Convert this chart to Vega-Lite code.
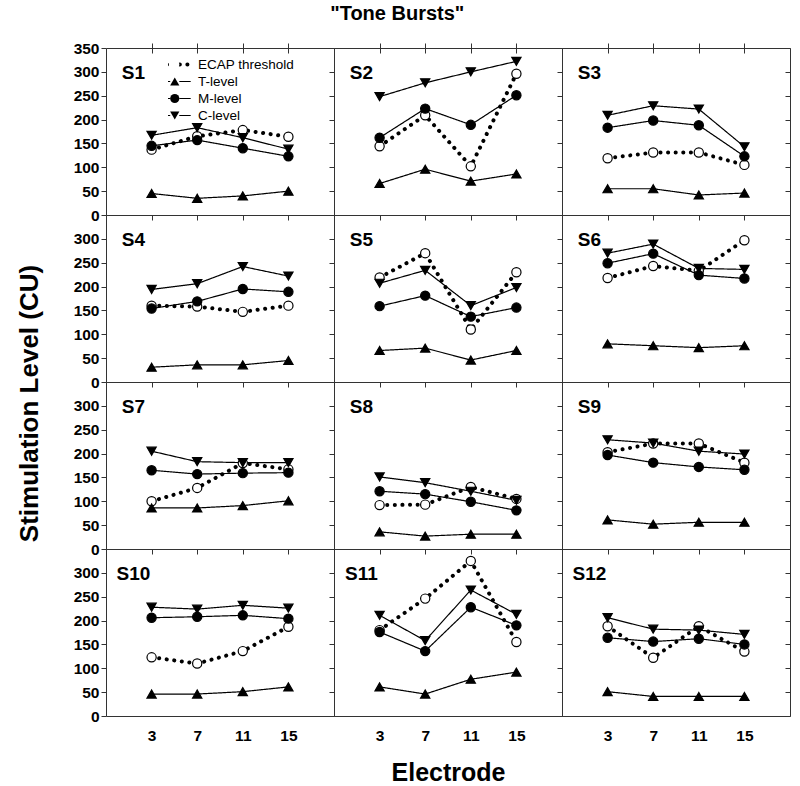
{
"$schema": "https://vega.github.io/schema/vega-lite/v6.json",
"padding": {"left": 15, "top": 3, "right": 10, "bottom": 5},
"background": "white",
"title": {"text": "\"Tone Bursts\"", "font": "Liberation Sans", "fontSize": 20, "fontWeight": "bold", "color": "black", "anchor": "middle", "dx": -6, "offset": 17},
"data": {"values": [
{"subject":"S1","series":"ECAP threshold","electrode":3,"value":137},{"subject":"S1","series":"ECAP threshold","electrode":7,"value":165},{"subject":"S1","series":"ECAP threshold","electrode":11,"value":178},{"subject":"S1","series":"ECAP threshold","electrode":15,"value":164},
{"subject":"S1","series":"T-level","electrode":3,"value":45},{"subject":"S1","series":"T-level","electrode":7,"value":35},{"subject":"S1","series":"T-level","electrode":11,"value":40},{"subject":"S1","series":"T-level","electrode":15,"value":50},
{"subject":"S1","series":"M-level","electrode":3,"value":145},{"subject":"S1","series":"M-level","electrode":7,"value":157},{"subject":"S1","series":"M-level","electrode":11,"value":140},{"subject":"S1","series":"M-level","electrode":15,"value":123},
{"subject":"S1","series":"C-level","electrode":3,"value":167},{"subject":"S1","series":"C-level","electrode":7,"value":183},{"subject":"S1","series":"C-level","electrode":11,"value":162},{"subject":"S1","series":"C-level","electrode":15,"value":138},
{"subject":"S2","series":"ECAP threshold","electrode":3,"value":144},{"subject":"S2","series":"ECAP threshold","electrode":7,"value":209},{"subject":"S2","series":"ECAP threshold","electrode":11,"value":102},{"subject":"S2","series":"ECAP threshold","electrode":15,"value":296},
{"subject":"S2","series":"T-level","electrode":3,"value":66},{"subject":"S2","series":"T-level","electrode":7,"value":96},{"subject":"S2","series":"T-level","electrode":11,"value":71},{"subject":"S2","series":"T-level","electrode":15,"value":86},
{"subject":"S2","series":"M-level","electrode":3,"value":162},{"subject":"S2","series":"M-level","electrode":7,"value":223},{"subject":"S2","series":"M-level","electrode":11,"value":189},{"subject":"S2","series":"M-level","electrode":15,"value":251},
{"subject":"S2","series":"C-level","electrode":3,"value":248},{"subject":"S2","series":"C-level","electrode":7,"value":277},{"subject":"S2","series":"C-level","electrode":11,"value":300},{"subject":"S2","series":"C-level","electrode":15,"value":322},
{"subject":"S3","series":"ECAP threshold","electrode":3,"value":119},{"subject":"S3","series":"ECAP threshold","electrode":7,"value":131},{"subject":"S3","series":"ECAP threshold","electrode":11,"value":131},{"subject":"S3","series":"ECAP threshold","electrode":15,"value":105},
{"subject":"S3","series":"T-level","electrode":3,"value":55},{"subject":"S3","series":"T-level","electrode":7,"value":55},{"subject":"S3","series":"T-level","electrode":11,"value":42},{"subject":"S3","series":"T-level","electrode":15,"value":46},
{"subject":"S3","series":"M-level","electrode":3,"value":183},{"subject":"S3","series":"M-level","electrode":7,"value":198},{"subject":"S3","series":"M-level","electrode":11,"value":188},{"subject":"S3","series":"M-level","electrode":15,"value":123},
{"subject":"S3","series":"C-level","electrode":3,"value":209},{"subject":"S3","series":"C-level","electrode":7,"value":229},{"subject":"S3","series":"C-level","electrode":11,"value":222},{"subject":"S3","series":"C-level","electrode":15,"value":143},
{"subject":"S4","series":"ECAP threshold","electrode":3,"value":160},{"subject":"S4","series":"ECAP threshold","electrode":7,"value":158},{"subject":"S4","series":"ECAP threshold","electrode":11,"value":147},{"subject":"S4","series":"ECAP threshold","electrode":15,"value":160},
{"subject":"S4","series":"T-level","electrode":3,"value":31},{"subject":"S4","series":"T-level","electrode":7,"value":36},{"subject":"S4","series":"T-level","electrode":11,"value":36},{"subject":"S4","series":"T-level","electrode":15,"value":45},
{"subject":"S4","series":"M-level","electrode":3,"value":154},{"subject":"S4","series":"M-level","electrode":7,"value":169},{"subject":"S4","series":"M-level","electrode":11,"value":195},{"subject":"S4","series":"M-level","electrode":15,"value":189},
{"subject":"S4","series":"C-level","electrode":3,"value":194},{"subject":"S4","series":"C-level","electrode":7,"value":206},{"subject":"S4","series":"C-level","electrode":11,"value":242},{"subject":"S4","series":"C-level","electrode":15,"value":222},
{"subject":"S5","series":"ECAP threshold","electrode":3,"value":219},{"subject":"S5","series":"ECAP threshold","electrode":7,"value":270},{"subject":"S5","series":"ECAP threshold","electrode":11,"value":110},{"subject":"S5","series":"ECAP threshold","electrode":15,"value":230},
{"subject":"S5","series":"T-level","electrode":3,"value":66},{"subject":"S5","series":"T-level","electrode":7,"value":71},{"subject":"S5","series":"T-level","electrode":11,"value":46},{"subject":"S5","series":"T-level","electrode":15,"value":66},
{"subject":"S5","series":"M-level","electrode":3,"value":159},{"subject":"S5","series":"M-level","electrode":7,"value":181},{"subject":"S5","series":"M-level","electrode":11,"value":137},{"subject":"S5","series":"M-level","electrode":15,"value":156},
{"subject":"S5","series":"C-level","electrode":3,"value":207},{"subject":"S5","series":"C-level","electrode":7,"value":234},{"subject":"S5","series":"C-level","electrode":11,"value":160},{"subject":"S5","series":"C-level","electrode":15,"value":198},
{"subject":"S6","series":"ECAP threshold","electrode":3,"value":218},{"subject":"S6","series":"ECAP threshold","electrode":7,"value":243},{"subject":"S6","series":"ECAP threshold","electrode":11,"value":233},{"subject":"S6","series":"ECAP threshold","electrode":15,"value":297},
{"subject":"S6","series":"T-level","electrode":3,"value":80},{"subject":"S6","series":"T-level","electrode":7,"value":76},{"subject":"S6","series":"T-level","electrode":11,"value":72},{"subject":"S6","series":"T-level","electrode":15,"value":76},
{"subject":"S6","series":"M-level","electrode":3,"value":249},{"subject":"S6","series":"M-level","electrode":7,"value":269},{"subject":"S6","series":"M-level","electrode":11,"value":224},{"subject":"S6","series":"M-level","electrode":15,"value":217},
{"subject":"S6","series":"C-level","electrode":3,"value":270},{"subject":"S6","series":"C-level","electrode":7,"value":289},{"subject":"S6","series":"C-level","electrode":11,"value":238},{"subject":"S6","series":"C-level","electrode":15,"value":236},
{"subject":"S7","series":"ECAP threshold","electrode":3,"value":100},{"subject":"S7","series":"ECAP threshold","electrode":7,"value":128},{"subject":"S7","series":"ECAP threshold","electrode":11,"value":180},{"subject":"S7","series":"ECAP threshold","electrode":15,"value":167},
{"subject":"S7","series":"T-level","electrode":3,"value":86},{"subject":"S7","series":"T-level","electrode":7,"value":86},{"subject":"S7","series":"T-level","electrode":11,"value":91},{"subject":"S7","series":"T-level","electrode":15,"value":101},
{"subject":"S7","series":"M-level","electrode":3,"value":165},{"subject":"S7","series":"M-level","electrode":7,"value":157},{"subject":"S7","series":"M-level","electrode":11,"value":159},{"subject":"S7","series":"M-level","electrode":15,"value":160},
{"subject":"S7","series":"C-level","electrode":3,"value":205},{"subject":"S7","series":"C-level","electrode":7,"value":183},{"subject":"S7","series":"C-level","electrode":11,"value":181},{"subject":"S7","series":"C-level","electrode":15,"value":181},
{"subject":"S8","series":"ECAP threshold","electrode":3,"value":92},{"subject":"S8","series":"ECAP threshold","electrode":7,"value":93},{"subject":"S8","series":"ECAP threshold","electrode":11,"value":130},{"subject":"S8","series":"ECAP threshold","electrode":15,"value":105},
{"subject":"S8","series":"T-level","electrode":3,"value":36},{"subject":"S8","series":"T-level","electrode":7,"value":27},{"subject":"S8","series":"T-level","electrode":11,"value":31},{"subject":"S8","series":"T-level","electrode":15,"value":31},
{"subject":"S8","series":"M-level","electrode":3,"value":121},{"subject":"S8","series":"M-level","electrode":7,"value":115},{"subject":"S8","series":"M-level","electrode":11,"value":99},{"subject":"S8","series":"M-level","electrode":15,"value":81},
{"subject":"S8","series":"C-level","electrode":3,"value":151},{"subject":"S8","series":"C-level","electrode":7,"value":139},{"subject":"S8","series":"C-level","electrode":11,"value":121},{"subject":"S8","series":"C-level","electrode":15,"value":102},
{"subject":"S9","series":"ECAP threshold","electrode":3,"value":203},{"subject":"S9","series":"ECAP threshold","electrode":7,"value":221},{"subject":"S9","series":"ECAP threshold","electrode":11,"value":221},{"subject":"S9","series":"ECAP threshold","electrode":15,"value":181},
{"subject":"S9","series":"T-level","electrode":3,"value":61},{"subject":"S9","series":"T-level","electrode":7,"value":52},{"subject":"S9","series":"T-level","electrode":11,"value":56},{"subject":"S9","series":"T-level","electrode":15,"value":56},
{"subject":"S9","series":"M-level","electrode":3,"value":197},{"subject":"S9","series":"M-level","electrode":7,"value":181},{"subject":"S9","series":"M-level","electrode":11,"value":172},{"subject":"S9","series":"M-level","electrode":15,"value":166},
{"subject":"S9","series":"C-level","electrode":3,"value":229},{"subject":"S9","series":"C-level","electrode":7,"value":222},{"subject":"S9","series":"C-level","electrode":11,"value":205},{"subject":"S9","series":"C-level","electrode":15,"value":199},
{"subject":"S10","series":"ECAP threshold","electrode":3,"value":123},{"subject":"S10","series":"ECAP threshold","electrode":7,"value":110},{"subject":"S10","series":"ECAP threshold","electrode":11,"value":136},{"subject":"S10","series":"ECAP threshold","electrode":15,"value":187},
{"subject":"S10","series":"T-level","electrode":3,"value":46},{"subject":"S10","series":"T-level","electrode":7,"value":46},{"subject":"S10","series":"T-level","electrode":11,"value":51},{"subject":"S10","series":"T-level","electrode":15,"value":61},
{"subject":"S10","series":"M-level","electrode":3,"value":206},{"subject":"S10","series":"M-level","electrode":7,"value":208},{"subject":"S10","series":"M-level","electrode":11,"value":211},{"subject":"S10","series":"M-level","electrode":15,"value":204},
{"subject":"S10","series":"C-level","electrode":3,"value":228},{"subject":"S10","series":"C-level","electrode":7,"value":224},{"subject":"S10","series":"C-level","electrode":11,"value":232},{"subject":"S10","series":"C-level","electrode":15,"value":226},
{"subject":"S11","series":"ECAP threshold","electrode":3,"value":180},{"subject":"S11","series":"ECAP threshold","electrode":7,"value":246},{"subject":"S11","series":"ECAP threshold","electrode":11,"value":325},{"subject":"S11","series":"ECAP threshold","electrode":15,"value":155},
{"subject":"S11","series":"T-level","electrode":3,"value":61},{"subject":"S11","series":"T-level","electrode":7,"value":46},{"subject":"S11","series":"T-level","electrode":11,"value":77},{"subject":"S11","series":"T-level","electrode":15,"value":92},
{"subject":"S11","series":"M-level","electrode":3,"value":176},{"subject":"S11","series":"M-level","electrode":7,"value":136},{"subject":"S11","series":"M-level","electrode":11,"value":228},{"subject":"S11","series":"M-level","electrode":15,"value":190},
{"subject":"S11","series":"C-level","electrode":3,"value":211},{"subject":"S11","series":"C-level","electrode":7,"value":158},{"subject":"S11","series":"C-level","electrode":11,"value":264},{"subject":"S11","series":"C-level","electrode":15,"value":213},
{"subject":"S12","series":"ECAP threshold","electrode":3,"value":188},{"subject":"S12","series":"ECAP threshold","electrode":7,"value":122},{"subject":"S12","series":"ECAP threshold","electrode":11,"value":188},{"subject":"S12","series":"ECAP threshold","electrode":15,"value":135},
{"subject":"S12","series":"T-level","electrode":3,"value":51},{"subject":"S12","series":"T-level","electrode":7,"value":41},{"subject":"S12","series":"T-level","electrode":11,"value":41},{"subject":"S12","series":"T-level","electrode":15,"value":41},
{"subject":"S12","series":"M-level","electrode":3,"value":164},{"subject":"S12","series":"M-level","electrode":7,"value":156},{"subject":"S12","series":"M-level","electrode":11,"value":162},{"subject":"S12","series":"M-level","electrode":15,"value":150},
{"subject":"S12","series":"C-level","electrode":3,"value":206},{"subject":"S12","series":"C-level","electrode":7,"value":182},{"subject":"S12","series":"C-level","electrode":11,"value":180},{"subject":"S12","series":"C-level","electrode":15,"value":171}
]},
"columns": 3,
"spacing": 0,
"bounds": "flush",
"concat": [
{"width":228,"height":167,"transform":[{"filter":"datum.subject == 'S1'"}],
 "encoding":{"x":{"field":"electrode","type":"quantitative","scale":{"domain":[-1,19],"nice":false},"axis":{"values":[3,7,11,15],"labels":false,"title":null}},
  "y":{"field":"value","type":"quantitative","scale":{"domain":[0,350],"nice":false},"axis":{"values":[0,50,100,150,200,250,300,350],"title":null}}},
 "resolve":{"axis":{"x":"independent"}},
 "layer":[
  {"mark":{"type":"line","color":"black","strokeCap":"round"},"encoding":{
    "strokeDash":{"field":"series","type":"nominal","sort":["ECAP threshold","T-level","M-level","C-level"],"scale":{"range":[[0.1,7.5],[1,0],[1,0],[1,0]]},"legend":{"orient":"none","legendX":62,"legendY":8,"title":null,"symbolType":"M-3.1,0H-1M1,0H3.1","symbolSize":100,"symbolStrokeColor":"black","symbolFillColor":"transparent","symbolStrokeWidth":1.2,"clipHeight":17,"rowPadding":0,"padding":0,"labelFont":"Liberation Sans","labelFontSize":13.5,"labelColor":"black","labelOffset":16.5,"encode":{"symbols":{"update":{"strokeCap":{"value":"round"},"strokeWidth":{"signal":"datum.value == 'ECAP threshold' ? 4 : 1.2"},"strokeDash":{"signal":"datum.value == 'ECAP threshold' ? [0.1, 7.5] : [1, 0]"}}}}}},
    "strokeWidth":{"condition":{"test":"datum.series == 'ECAP threshold'","value":4},"value":1.2}}},
  {"mark":{"type":"point","filled":true,"stroke":"black","strokeWidth":1.2,"size":85,"opacity":1},"encoding":{
    "shape":{"field":"series","type":"nominal","scale":{"domain":["ECAP threshold","T-level","M-level","C-level"],"range":["circle","triangle-up","circle","triangle-down"]},"legend":{"orient":"none","legendX":62,"legendY":8,"title":null,"symbolSize":85,"symbolStrokeColor":"black","symbolStrokeWidth":1.2,"symbolOpacity":1,"clipHeight":17,"rowPadding":0,"padding":0,"labelExpr":"''"}},
    "fill":{"field":"series","type":"nominal","scale":{"domain":["ECAP threshold","T-level","M-level","C-level"],"range":["white","black","black","black"]},"legend":{"orient":"none","legendX":62,"legendY":8,"title":null,"symbolSize":85,"symbolStrokeColor":"black","symbolStrokeWidth":1.2,"symbolOpacity":1,"clipHeight":17,"rowPadding":0,"padding":0,"labelExpr":"''"}}}},
  {"transform":[{"filter":"datum.electrode == 3 && datum.series == 'T-level'"}],"mark":{"type":"text","font":"Liberation Sans","fontSize":19,"fontWeight":"bold","align":"center","baseline":"middle","color":"black"},"encoding":{"x":{"datum":1.4,"axis":{"orient":"top","values":[3,7,11,15],"labels":false,"title":null,"tickSize":-5}},"y":{"datum":297},"text":{"field":"subject"}}}
 ]},
{"width":228,"height":167,"transform":[{"filter":"datum.subject == 'S2'"}],
 "encoding":{"x":{"field":"electrode","type":"quantitative","scale":{"domain":[-1,19],"nice":false},"axis":{"values":[3,7,11,15],"labels":false,"title":null}},
  "y":{"field":"value","type":"quantitative","scale":{"domain":[0,350],"nice":false},"axis":{"values":[0,50,100,150,200,250,300,350],"labels":false,"title":null}}},
 "resolve":{"axis":{"x":"independent"}},
 "layer":[
  {"mark":{"type":"line","color":"black","strokeCap":"round"},"encoding":{
    "strokeDash":{"field":"series","type":"nominal","sort":["ECAP threshold","T-level","M-level","C-level"],"scale":{"range":[[0.1,7.5],[1,0],[1,0],[1,0]]}},
    "strokeWidth":{"condition":{"test":"datum.series == 'ECAP threshold'","value":4},"value":1.2}}},
  {"mark":{"type":"point","filled":true,"stroke":"black","strokeWidth":1.2,"size":85,"opacity":1},"encoding":{
    "shape":{"field":"series","type":"nominal","scale":{"domain":["ECAP threshold","T-level","M-level","C-level"],"range":["circle","triangle-up","circle","triangle-down"]}},
    "fill":{"field":"series","type":"nominal","scale":{"domain":["ECAP threshold","T-level","M-level","C-level"],"range":["white","black","black","black"]}}}},
  {"transform":[{"filter":"datum.electrode == 3 && datum.series == 'T-level'"}],"mark":{"type":"text","font":"Liberation Sans","fontSize":19,"fontWeight":"bold","align":"center","baseline":"middle","color":"black"},"encoding":{"x":{"datum":1.4,"axis":{"orient":"top","values":[3,7,11,15],"labels":false,"title":null,"tickSize":-5}},"y":{"datum":297},"text":{"field":"subject"}}}
 ]},
{"width":228,"height":167,"transform":[{"filter":"datum.subject == 'S3'"}],
 "encoding":{"x":{"field":"electrode","type":"quantitative","scale":{"domain":[-1,19],"nice":false},"axis":{"values":[3,7,11,15],"labels":false,"title":null}},
  "y":{"field":"value","type":"quantitative","scale":{"domain":[0,350],"nice":false},"axis":{"values":[0,50,100,150,200,250,300,350],"labels":false,"title":null}}},
 "resolve":{"axis":{"x":"independent","y":"independent"}},
 "layer":[
  {"mark":{"type":"line","color":"black","strokeCap":"round"},"encoding":{
    "strokeDash":{"field":"series","type":"nominal","sort":["ECAP threshold","T-level","M-level","C-level"],"scale":{"range":[[0.1,7.5],[1,0],[1,0],[1,0]]}},
    "strokeWidth":{"condition":{"test":"datum.series == 'ECAP threshold'","value":4},"value":1.2}}},
  {"mark":{"type":"point","filled":true,"stroke":"black","strokeWidth":1.2,"size":85,"opacity":1},"encoding":{
    "y":{"field":"value","type":"quantitative","axis":null},
    "shape":{"field":"series","type":"nominal","scale":{"domain":["ECAP threshold","T-level","M-level","C-level"],"range":["circle","triangle-up","circle","triangle-down"]}},
    "fill":{"field":"series","type":"nominal","scale":{"domain":["ECAP threshold","T-level","M-level","C-level"],"range":["white","black","black","black"]}}}},
  {"transform":[{"filter":"datum.electrode == 3 && datum.series == 'T-level'"}],"mark":{"type":"text","font":"Liberation Sans","fontSize":19,"fontWeight":"bold","align":"center","baseline":"middle","color":"black"},"encoding":{"x":{"datum":1.4,"axis":{"orient":"top","values":[3,7,11,15],"labels":false,"title":null,"tickSize":-5}},"y":{"datum":297,"axis":{"orient":"right","values":[0,50,100,150,200,250,300,350],"labels":false,"title":null,"tickSize":-5}},"text":{"field":"subject"}}}
 ]},
{"width":228,"height":167,"transform":[{"filter":"datum.subject == 'S4'"}],
 "encoding":{"x":{"field":"electrode","type":"quantitative","scale":{"domain":[-1,19],"nice":false},"axis":{"values":[3,7,11,15],"labels":false,"title":null}},
  "y":{"field":"value","type":"quantitative","scale":{"domain":[0,350],"nice":false},"axis":{"values":[0,50,100,150,200,250,300],"title":"Stimulation Level (CU)","titleFontSize":26,"titleY":188,"titleX":-64,"titleAlign":"center","titleBaseline":"bottom","titleAngle":-90}}},
 "layer":[
  {"mark":{"type":"line","color":"black","strokeCap":"round"},"encoding":{
    "strokeDash":{"field":"series","type":"nominal","sort":["ECAP threshold","T-level","M-level","C-level"],"scale":{"range":[[0.1,7.5],[1,0],[1,0],[1,0]]}},
    "strokeWidth":{"condition":{"test":"datum.series == 'ECAP threshold'","value":4},"value":1.2}}},
  {"mark":{"type":"point","filled":true,"stroke":"black","strokeWidth":1.2,"size":85,"opacity":1},"encoding":{
    "shape":{"field":"series","type":"nominal","scale":{"domain":["ECAP threshold","T-level","M-level","C-level"],"range":["circle","triangle-up","circle","triangle-down"]}},
    "fill":{"field":"series","type":"nominal","scale":{"domain":["ECAP threshold","T-level","M-level","C-level"],"range":["white","black","black","black"]}}}},
  {"transform":[{"filter":"datum.electrode == 3 && datum.series == 'T-level'"}],"mark":{"type":"text","font":"Liberation Sans","fontSize":19,"fontWeight":"bold","align":"center","baseline":"middle","color":"black"},"encoding":{"x":{"datum":1.4},"y":{"datum":297},"text":{"field":"subject"}}}
 ]},
{"width":228,"height":167,"transform":[{"filter":"datum.subject == 'S5'"}],
 "encoding":{"x":{"field":"electrode","type":"quantitative","scale":{"domain":[-1,19],"nice":false},"axis":{"values":[3,7,11,15],"labels":false,"title":null}},
  "y":{"field":"value","type":"quantitative","scale":{"domain":[0,350],"nice":false},"axis":{"values":[0,50,100,150,200,250,300,350],"labels":false,"title":null}}},
 "layer":[
  {"mark":{"type":"line","color":"black","strokeCap":"round"},"encoding":{
    "strokeDash":{"field":"series","type":"nominal","sort":["ECAP threshold","T-level","M-level","C-level"],"scale":{"range":[[0.1,7.5],[1,0],[1,0],[1,0]]}},
    "strokeWidth":{"condition":{"test":"datum.series == 'ECAP threshold'","value":4},"value":1.2}}},
  {"mark":{"type":"point","filled":true,"stroke":"black","strokeWidth":1.2,"size":85,"opacity":1},"encoding":{
    "shape":{"field":"series","type":"nominal","scale":{"domain":["ECAP threshold","T-level","M-level","C-level"],"range":["circle","triangle-up","circle","triangle-down"]}},
    "fill":{"field":"series","type":"nominal","scale":{"domain":["ECAP threshold","T-level","M-level","C-level"],"range":["white","black","black","black"]}}}},
  {"transform":[{"filter":"datum.electrode == 3 && datum.series == 'T-level'"}],"mark":{"type":"text","font":"Liberation Sans","fontSize":19,"fontWeight":"bold","align":"center","baseline":"middle","color":"black"},"encoding":{"x":{"datum":1.4},"y":{"datum":297},"text":{"field":"subject"}}}
 ]},
{"width":228,"height":167,"transform":[{"filter":"datum.subject == 'S6'"}],
 "encoding":{"x":{"field":"electrode","type":"quantitative","scale":{"domain":[-1,19],"nice":false},"axis":{"values":[3,7,11,15],"labels":false,"title":null}},
  "y":{"field":"value","type":"quantitative","scale":{"domain":[0,350],"nice":false},"axis":{"values":[0,50,100,150,200,250,300,350],"labels":false,"title":null}}},
 "resolve":{"axis":{"y":"independent"}},
 "layer":[
  {"mark":{"type":"line","color":"black","strokeCap":"round"},"encoding":{
    "strokeDash":{"field":"series","type":"nominal","sort":["ECAP threshold","T-level","M-level","C-level"],"scale":{"range":[[0.1,7.5],[1,0],[1,0],[1,0]]}},
    "strokeWidth":{"condition":{"test":"datum.series == 'ECAP threshold'","value":4},"value":1.2}}},
  {"mark":{"type":"point","filled":true,"stroke":"black","strokeWidth":1.2,"size":85,"opacity":1},"encoding":{
    "y":{"field":"value","type":"quantitative","axis":null},
    "shape":{"field":"series","type":"nominal","scale":{"domain":["ECAP threshold","T-level","M-level","C-level"],"range":["circle","triangle-up","circle","triangle-down"]}},
    "fill":{"field":"series","type":"nominal","scale":{"domain":["ECAP threshold","T-level","M-level","C-level"],"range":["white","black","black","black"]}}}},
  {"transform":[{"filter":"datum.electrode == 3 && datum.series == 'T-level'"}],"mark":{"type":"text","font":"Liberation Sans","fontSize":19,"fontWeight":"bold","align":"center","baseline":"middle","color":"black"},"encoding":{"x":{"datum":1.4},"y":{"datum":297,"axis":{"orient":"right","values":[0,50,100,150,200,250,300,350],"labels":false,"title":null,"tickSize":-5}},"text":{"field":"subject"}}}
 ]},
{"width":228,"height":167,"transform":[{"filter":"datum.subject == 'S7'"}],
 "encoding":{"x":{"field":"electrode","type":"quantitative","scale":{"domain":[-1,19],"nice":false},"axis":{"values":[3,7,11,15],"labels":false,"title":null}},
  "y":{"field":"value","type":"quantitative","scale":{"domain":[0,350],"nice":false},"axis":{"values":[0,50,100,150,200,250,300],"title":null}}},
 "layer":[
  {"mark":{"type":"line","color":"black","strokeCap":"round"},"encoding":{
    "strokeDash":{"field":"series","type":"nominal","sort":["ECAP threshold","T-level","M-level","C-level"],"scale":{"range":[[0.1,7.5],[1,0],[1,0],[1,0]]}},
    "strokeWidth":{"condition":{"test":"datum.series == 'ECAP threshold'","value":4},"value":1.2}}},
  {"mark":{"type":"point","filled":true,"stroke":"black","strokeWidth":1.2,"size":85,"opacity":1},"encoding":{
    "shape":{"field":"series","type":"nominal","scale":{"domain":["ECAP threshold","T-level","M-level","C-level"],"range":["circle","triangle-up","circle","triangle-down"]}},
    "fill":{"field":"series","type":"nominal","scale":{"domain":["ECAP threshold","T-level","M-level","C-level"],"range":["white","black","black","black"]}}}},
  {"transform":[{"filter":"datum.electrode == 3 && datum.series == 'T-level'"}],"mark":{"type":"text","font":"Liberation Sans","fontSize":19,"fontWeight":"bold","align":"center","baseline":"middle","color":"black"},"encoding":{"x":{"datum":1.4},"y":{"datum":297},"text":{"field":"subject"}}}
 ]},
{"width":228,"height":167,"transform":[{"filter":"datum.subject == 'S8'"}],
 "encoding":{"x":{"field":"electrode","type":"quantitative","scale":{"domain":[-1,19],"nice":false},"axis":{"values":[3,7,11,15],"labels":false,"title":null}},
  "y":{"field":"value","type":"quantitative","scale":{"domain":[0,350],"nice":false},"axis":{"values":[0,50,100,150,200,250,300,350],"labels":false,"title":null}}},
 "layer":[
  {"mark":{"type":"line","color":"black","strokeCap":"round"},"encoding":{
    "strokeDash":{"field":"series","type":"nominal","sort":["ECAP threshold","T-level","M-level","C-level"],"scale":{"range":[[0.1,7.5],[1,0],[1,0],[1,0]]}},
    "strokeWidth":{"condition":{"test":"datum.series == 'ECAP threshold'","value":4},"value":1.2}}},
  {"mark":{"type":"point","filled":true,"stroke":"black","strokeWidth":1.2,"size":85,"opacity":1},"encoding":{
    "shape":{"field":"series","type":"nominal","scale":{"domain":["ECAP threshold","T-level","M-level","C-level"],"range":["circle","triangle-up","circle","triangle-down"]}},
    "fill":{"field":"series","type":"nominal","scale":{"domain":["ECAP threshold","T-level","M-level","C-level"],"range":["white","black","black","black"]}}}},
  {"transform":[{"filter":"datum.electrode == 3 && datum.series == 'T-level'"}],"mark":{"type":"text","font":"Liberation Sans","fontSize":19,"fontWeight":"bold","align":"center","baseline":"middle","color":"black"},"encoding":{"x":{"datum":1.4},"y":{"datum":297},"text":{"field":"subject"}}}
 ]},
{"width":228,"height":167,"transform":[{"filter":"datum.subject == 'S9'"}],
 "encoding":{"x":{"field":"electrode","type":"quantitative","scale":{"domain":[-1,19],"nice":false},"axis":{"values":[3,7,11,15],"labels":false,"title":null}},
  "y":{"field":"value","type":"quantitative","scale":{"domain":[0,350],"nice":false},"axis":{"values":[0,50,100,150,200,250,300,350],"labels":false,"title":null}}},
 "resolve":{"axis":{"y":"independent"}},
 "layer":[
  {"mark":{"type":"line","color":"black","strokeCap":"round"},"encoding":{
    "strokeDash":{"field":"series","type":"nominal","sort":["ECAP threshold","T-level","M-level","C-level"],"scale":{"range":[[0.1,7.5],[1,0],[1,0],[1,0]]}},
    "strokeWidth":{"condition":{"test":"datum.series == 'ECAP threshold'","value":4},"value":1.2}}},
  {"mark":{"type":"point","filled":true,"stroke":"black","strokeWidth":1.2,"size":85,"opacity":1},"encoding":{
    "y":{"field":"value","type":"quantitative","axis":null},
    "shape":{"field":"series","type":"nominal","scale":{"domain":["ECAP threshold","T-level","M-level","C-level"],"range":["circle","triangle-up","circle","triangle-down"]}},
    "fill":{"field":"series","type":"nominal","scale":{"domain":["ECAP threshold","T-level","M-level","C-level"],"range":["white","black","black","black"]}}}},
  {"transform":[{"filter":"datum.electrode == 3 && datum.series == 'T-level'"}],"mark":{"type":"text","font":"Liberation Sans","fontSize":19,"fontWeight":"bold","align":"center","baseline":"middle","color":"black"},"encoding":{"x":{"datum":1.4},"y":{"datum":297,"axis":{"orient":"right","values":[0,50,100,150,200,250,300,350],"labels":false,"title":null,"tickSize":-5}},"text":{"field":"subject"}}}
 ]},
{"width":228,"height":167,"transform":[{"filter":"datum.subject == 'S10'"}],
 "encoding":{"x":{"field":"electrode","type":"quantitative","scale":{"domain":[-1,19],"nice":false},"axis":{"values":[3,7,11,15],"ticks":false,"labelPadding":12,"title":null}},
  "y":{"field":"value","type":"quantitative","scale":{"domain":[0,350],"nice":false},"axis":{"values":[0,50,100,150,200,250,300],"title":null}}},
 "layer":[
  {"mark":{"type":"line","color":"black","strokeCap":"round"},"encoding":{
    "strokeDash":{"field":"series","type":"nominal","sort":["ECAP threshold","T-level","M-level","C-level"],"scale":{"range":[[0.1,7.5],[1,0],[1,0],[1,0]]}},
    "strokeWidth":{"condition":{"test":"datum.series == 'ECAP threshold'","value":4},"value":1.2}}},
  {"mark":{"type":"point","filled":true,"stroke":"black","strokeWidth":1.2,"size":85,"opacity":1},"encoding":{
    "shape":{"field":"series","type":"nominal","scale":{"domain":["ECAP threshold","T-level","M-level","C-level"],"range":["circle","triangle-up","circle","triangle-down"]}},
    "fill":{"field":"series","type":"nominal","scale":{"domain":["ECAP threshold","T-level","M-level","C-level"],"range":["white","black","black","black"]}}}},
  {"transform":[{"filter":"datum.electrode == 3 && datum.series == 'T-level'"}],"mark":{"type":"text","font":"Liberation Sans","fontSize":19,"fontWeight":"bold","align":"center","baseline":"middle","color":"black"},"encoding":{"x":{"datum":1.4},"y":{"datum":297},"text":{"field":"subject"}}}
 ]},
{"width":228,"height":167,"transform":[{"filter":"datum.subject == 'S11'"}],
 "encoding":{"x":{"field":"electrode","type":"quantitative","scale":{"domain":[-1,19],"nice":false},"axis":{"values":[3,7,11,15],"ticks":false,"labelPadding":12,"title":"Electrode","titleFontSize":25,"titlePadding":17}},
  "y":{"field":"value","type":"quantitative","scale":{"domain":[0,350],"nice":false},"axis":{"values":[0,50,100,150,200,250,300,350],"labels":false,"title":null}}},
 "layer":[
  {"mark":{"type":"line","color":"black","strokeCap":"round"},"encoding":{
    "strokeDash":{"field":"series","type":"nominal","sort":["ECAP threshold","T-level","M-level","C-level"],"scale":{"range":[[0.1,7.5],[1,0],[1,0],[1,0]]}},
    "strokeWidth":{"condition":{"test":"datum.series == 'ECAP threshold'","value":4},"value":1.2}}},
  {"mark":{"type":"point","filled":true,"stroke":"black","strokeWidth":1.2,"size":85,"opacity":1},"encoding":{
    "shape":{"field":"series","type":"nominal","scale":{"domain":["ECAP threshold","T-level","M-level","C-level"],"range":["circle","triangle-up","circle","triangle-down"]}},
    "fill":{"field":"series","type":"nominal","scale":{"domain":["ECAP threshold","T-level","M-level","C-level"],"range":["white","black","black","black"]}}}},
  {"transform":[{"filter":"datum.electrode == 3 && datum.series == 'T-level'"}],"mark":{"type":"text","font":"Liberation Sans","fontSize":19,"fontWeight":"bold","align":"center","baseline":"middle","color":"black"},"encoding":{"x":{"datum":1.4},"y":{"datum":297},"text":{"field":"subject"}}}
 ]},
{"width":228,"height":167,"transform":[{"filter":"datum.subject == 'S12'"}],
 "encoding":{"x":{"field":"electrode","type":"quantitative","scale":{"domain":[-1,19],"nice":false},"axis":{"values":[3,7,11,15],"ticks":false,"labelPadding":12,"title":null}},
  "y":{"field":"value","type":"quantitative","scale":{"domain":[0,350],"nice":false},"axis":{"values":[0,50,100,150,200,250,300,350],"labels":false,"title":null}}},
 "resolve":{"axis":{"y":"independent"}},
 "layer":[
  {"mark":{"type":"line","color":"black","strokeCap":"round"},"encoding":{
    "strokeDash":{"field":"series","type":"nominal","sort":["ECAP threshold","T-level","M-level","C-level"],"scale":{"range":[[0.1,7.5],[1,0],[1,0],[1,0]]}},
    "strokeWidth":{"condition":{"test":"datum.series == 'ECAP threshold'","value":4},"value":1.2}}},
  {"mark":{"type":"point","filled":true,"stroke":"black","strokeWidth":1.2,"size":85,"opacity":1},"encoding":{
    "y":{"field":"value","type":"quantitative","axis":null},
    "shape":{"field":"series","type":"nominal","scale":{"domain":["ECAP threshold","T-level","M-level","C-level"],"range":["circle","triangle-up","circle","triangle-down"]}},
    "fill":{"field":"series","type":"nominal","scale":{"domain":["ECAP threshold","T-level","M-level","C-level"],"range":["white","black","black","black"]}}}},
  {"transform":[{"filter":"datum.electrode == 3 && datum.series == 'T-level'"}],"mark":{"type":"text","font":"Liberation Sans","fontSize":19,"fontWeight":"bold","align":"center","baseline":"middle","color":"black"},"encoding":{"x":{"datum":1.4},"y":{"datum":297,"axis":{"orient":"right","values":[0,50,100,150,200,250,300,350],"labels":false,"title":null,"tickSize":-5}},"text":{"field":"subject"}}}
 ]}
],
"config": {
 "view": {"stroke": "#333", "strokeWidth": 1},
 "legend": {"labelFont": "Liberation Sans", "labelFontSize": 13.5, "labelColor": "black"},
 "axis": {"grid": false, "domain": false, "tickColor": "#333", "tickSize": 5, "tickWidth": 1, "labelFont": "Liberation Sans", "labelFontWeight": "bold", "labelFontSize": 15.5, "labelColor": "black", "labelPadding": 2, "titleFont": "Liberation Sans", "titleFontWeight": "bold", "titleColor": "black"}
}
}
